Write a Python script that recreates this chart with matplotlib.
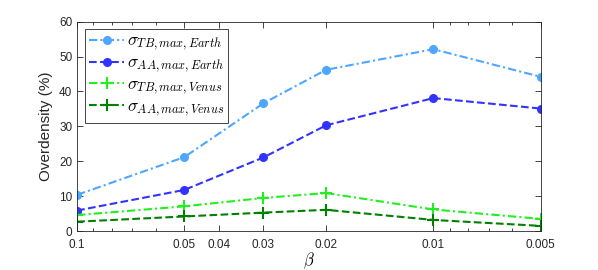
import numpy as np
import matplotlib
matplotlib.use("Agg")
import matplotlib.pyplot as plt
from matplotlib.ticker import FixedLocator, NullFormatter

plt.rcParams['font.family'] = ['Liberation Sans', 'DejaVu Sans']
plt.rcParams['mathtext.fontset'] = 'cm'

# data
beta = [0.1, 0.05, 0.03, 0.02, 0.01, 0.005]
tb_earth = [10.4, 21.2, 36.6, 46.2, 52.1, 44.2]
aa_earth = [5.9, 11.8, 21.1, 30.3, 38.1, 35.1]
tb_venus = [4.6, 7.1, 9.5, 10.9, 6.2, 3.5]
aa_venus = [2.7, 4.2, 5.3, 6.1, 3.2, 1.5]

xticks = [0.1, 0.05, 0.04, 0.03, 0.02, 0.01, 0.005]
xticklabels = ['0.1', '0.05', '0.04', '0.03', '0.02', '0.01', '0.005']
minor = [0.09, 0.08, 0.07, 0.06, 0.009, 0.008, 0.007, 0.006]

fig = plt.figure(figsize=(5.98, 2.7), dpi=100)
ax = fig.add_axes([0.129, 0.144, 0.775, 0.776])

dashdot = (0, (4, 1.5, 1, 1.5))
ax.plot(beta, tb_earth, linestyle=dashdot, color='#4da6ff', marker='o', ms=5.5, lw=1.5,
        label=r'$\sigma_{TB,max,Earth}$')
ax.plot(beta, aa_earth, '--', color='#3333ff', marker='o', ms=5.5, lw=1.5,
        label=r'$\sigma_{AA,max,Earth}$')
ax.plot(beta, tb_venus, linestyle=dashdot, color='#22ee22', marker='+', ms=9, mew=1.5, lw=1.5,
        label=r'$\sigma_{TB,max,Venus}$')
ax.plot(beta, aa_venus, '--', color='#008000', marker='+', ms=9, mew=1.5, lw=1.5,
        label=r'$\sigma_{AA,max,Venus}$')

ax.set_xscale('log')
ax.set_xlim(0.1, 0.005)
ax.set_ylim(0, 60)
ax.xaxis.set_major_locator(FixedLocator(xticks))
ax.set_xticklabels(xticklabels)
ax.xaxis.set_minor_locator(FixedLocator(minor))
ax.xaxis.set_minor_formatter(NullFormatter())
ax.set_yticks([0, 10, 20, 30, 40, 50, 60])

ax.tick_params(which='both', direction='in', top=True, right=True,
               labelsize=8.5, colors='#262626', width=0.6)
ax.tick_params(which='major', length=4)
ax.tick_params(which='minor', length=2.5)
ax.tick_params(axis='x', which='major', pad=6)
for s in ax.spines.values():
    s.set_color('#262626')
    s.set_linewidth(0.6)

ax.set_ylabel('Overdensity (%)', fontsize=11, color='#262626')
ax.set_xlabel(r'$\beta$', fontsize=12, labelpad=-1)

leg = ax.legend(loc='upper left', fontsize=12.5, handlelength=2.0,
                handletextpad=0.15, labelspacing=0.12, borderpad=0.25,
                borderaxespad=0.45, fancybox=False, edgecolor='#262626',
                framealpha=1)
leg.get_frame().set_linewidth(0.6)

fig.savefig('out.png', dpi=100)
